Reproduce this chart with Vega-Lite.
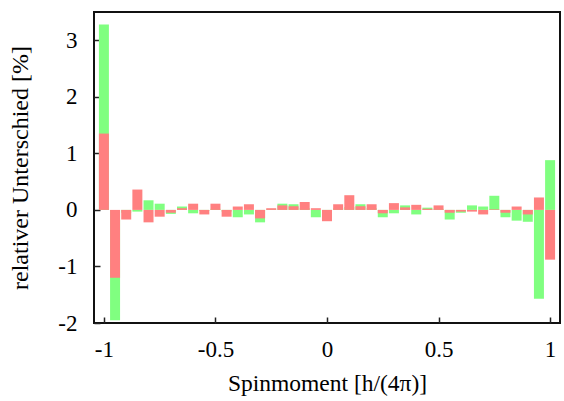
{
  "$schema": "https://vega.github.io/schema/vega-lite/v6.json",
  "width": 466,
  "height": 311,
  "autosize": "none",
  "padding": {"left": 94, "top": 12, "right": 4, "bottom": 78},
  "background": "white",
  "config": {
    "view": {"stroke": "#111", "strokeWidth": 2},
    "font": "Liberation Serif"
  },
  "data": {
    "values": [
      {"x": -1.00, "g": 3.28, "r": 1.35},
      {"x": -0.95, "g": -1.95, "r": -1.20},
      {"x": -0.90, "g": -0.05, "r": -0.17},
      {"x": -0.85, "g": -0.03, "r": 0.36},
      {"x": -0.80, "g": 0.17, "r": -0.22},
      {"x": -0.75, "g": 0.11, "r": -0.12},
      {"x": -0.70, "g": -0.07, "r": -0.05},
      {"x": -0.65, "g": 0.06, "r": 0.03},
      {"x": -0.60, "g": -0.06, "r": 0.11},
      {"x": -0.55, "g": -0.02, "r": -0.08},
      {"x": -0.50, "g": 0.02, "r": 0.11},
      {"x": -0.45, "g": -0.03, "r": -0.12},
      {"x": -0.40, "g": -0.13, "r": 0.06},
      {"x": -0.35, "g": -0.08, "r": 0.10},
      {"x": -0.30, "g": -0.22, "r": -0.15},
      {"x": -0.25, "g": 0.01, "r": 0.03},
      {"x": -0.20, "g": 0.11, "r": 0.08},
      {"x": -0.15, "g": 0.10, "r": 0.065},
      {"x": -0.10, "g": 0.03, "r": 0.14},
      {"x": -0.05, "g": -0.13, "r": 0.03},
      {"x": 0.00, "g": -0.05, "r": -0.20},
      {"x": 0.05, "g": 0.03, "r": 0.10},
      {"x": 0.10, "g": 0.05, "r": 0.26},
      {"x": 0.15, "g": 0.10, "r": 0.065},
      {"x": 0.20, "g": 0.03, "r": 0.10},
      {"x": 0.25, "g": -0.13, "r": -0.06},
      {"x": 0.30, "g": -0.06, "r": 0.12},
      {"x": 0.35, "g": 0.08, "r": 0.045},
      {"x": 0.40, "g": -0.08, "r": 0.09},
      {"x": 0.45, "g": 0.04, "r": 0.02},
      {"x": 0.50, "g": 0.02, "r": 0.08},
      {"x": 0.55, "g": -0.17, "r": -0.05},
      {"x": 0.60, "g": -0.05, "r": -0.03},
      {"x": 0.65, "g": 0.08, "r": -0.03},
      {"x": 0.70, "g": 0.06, "r": -0.08},
      {"x": 0.75, "g": 0.25, "r": 0.01},
      {"x": 0.80, "g": -0.13, "r": -0.05},
      {"x": 0.85, "g": -0.19, "r": 0.06},
      {"x": 0.90, "g": -0.21, "r": -0.08},
      {"x": 0.95, "g": -1.57, "r": 0.22},
      {"x": 1.00, "g": 0.88, "r": -0.88}
    ]
  },
  "encoding": {
    "x": {
      "field": "x",
      "type": "quantitative",
      "scale": {"domain": [-1.022, 1.022], "nice": false, "zero": false},
      "axis": {
        "values": [-1, -0.5, 0, 0.5, 1],
        "labelExpr": "'' + datum.value",
        "title": "Spinmoment [h/(4π)]",
        "grid": false,
        "domain": false,
        "tickSize": -6,
        "tickColor": "#222",
        "tickWidth": 1.5,
        "labelPadding": 21,
        "labelFontSize": 23,
        "labelColor": "black",
        "labelFont": "Liberation Serif",
        "titleFont": "Liberation Serif",
        "titleFontSize": 23.5,
        "titleFontWeight": "normal",
        "titleColor": "black",
        "titlePadding": 10,
        "labelFlush": false
      }
    }
  },
  "layer": [
    {
      "mark": {"type": "bar", "color": "#80ff80", "width": 10, "opacity": 1},
      "encoding": {
        "y": {
          "field": "g",
          "type": "quantitative",
          "scale": {"domain": [-2, 3.5], "nice": false},
          "axis": {
            "values": [-2, -1, 0, 1, 2, 3],
            "labelExpr": "'' + datum.value",
            "title": "relativer Unterschied [%]",
            "grid": false,
            "domain": false,
            "tickSize": -6,
            "tickColor": "#222",
            "tickWidth": 1.5,
            "labelPadding": 23,
            "labelFontSize": 23,
            "labelColor": "black",
            "labelFont": "Liberation Serif",
            "titleFont": "Liberation Serif",
            "titleFontSize": 24,
            "titleFontWeight": "normal",
            "titleColor": "black",
            "titlePadding": 25,
            "labelFlush": false
          }
        }
      }
    },
    {
      "mark": {"type": "bar", "color": "#ff8080", "width": 10, "opacity": 1},
      "encoding": {
        "y": {"field": "r", "type": "quantitative"}
      }
    }
  ]
}
